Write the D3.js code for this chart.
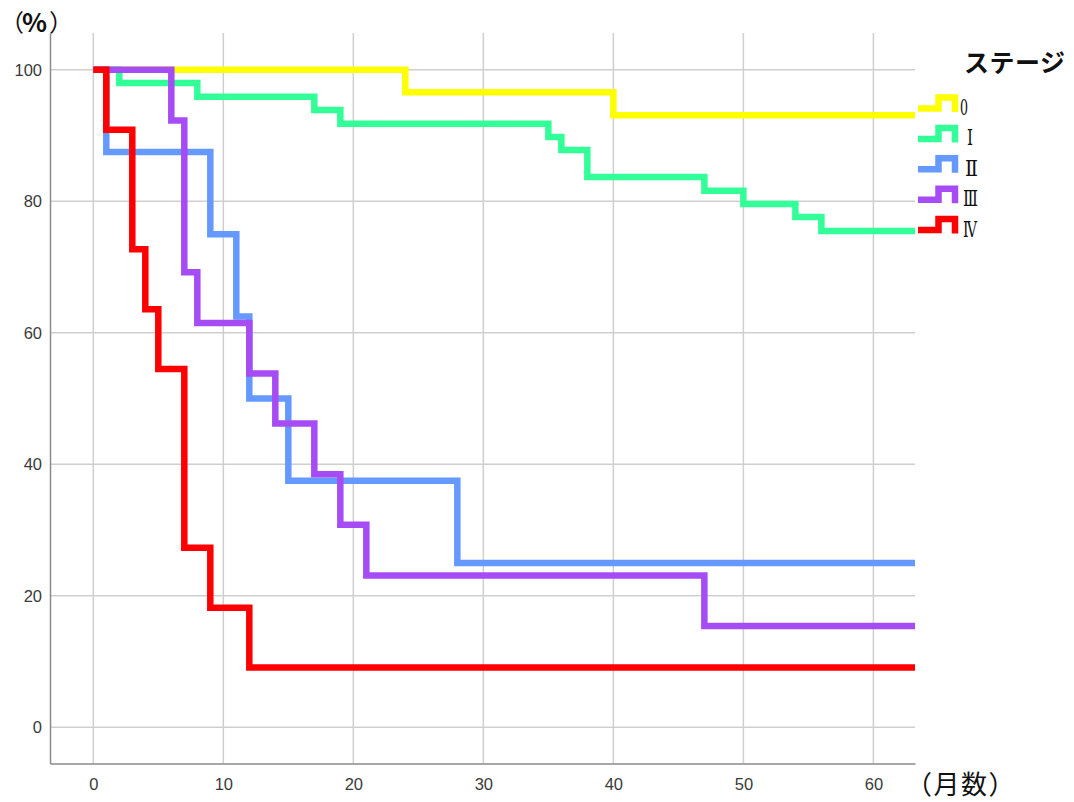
<!DOCTYPE html>
<html>
<head>
<meta charset="utf-8">
<script src="https://cdn.jsdelivr.net/npm/d3@7"></script>
<style>
  body { margin: 0; background: #fff; }
</style>
</head>
<body>
<div id="chart"></div>
<script>
// stage names and colours
const stages = ["0", "Ⅰ", "Ⅱ", "Ⅲ", "Ⅳ"];
const colors = ["#ffff00", "#33ff99", "#6699ff", "#a64cf4", "#ff0000"];

// step times (months) and survival (%) from that time on
const stage0Times = [0, 24, 40];
const stage0Surv  = [100, 96.6, 93.1];
const stage1Times = [0, 2, 8, 17, 19, 35, 36, 38, 47, 50, 54, 56];
const stage1Surv  = [100, 98.0, 95.9, 93.9, 91.8, 89.8, 87.8, 83.7, 81.6, 79.6, 77.6, 75.5];
const stage2Times = [0, 1, 9, 11, 12, 15, 28];
const stage2Surv  = [100, 87.5, 75, 62.5, 50, 37.5, 25];
const stage3Times = [0, 6, 7, 8, 12, 14, 17, 19, 21, 47];
const stage3Surv  = [100, 92.3, 69.2, 61.5, 53.8, 46.2, 38.5, 30.8, 23.1, 15.4];
const stage4Times = [0, 1, 3, 4, 5, 7, 9, 12];
const stage4Surv  = [100, 90.9, 72.7, 63.6, 54.5, 27.3, 18.2, 9.1];
const endTime = 63.2;

const xTicks = [0, 10, 20, 30, 40, 50, 60];
const yTicks = [0, 20, 40, 60, 80, 100];

const series = [
  [stage0Times, stage0Surv],
  [stage1Times, stage1Surv],
  [stage2Times, stage2Surv],
  [stage3Times, stage3Surv],
  [stage4Times, stage4Surv]
].map(([t, s]) => {
  const pts = t.map((d, i) => [d, s[i]]);
  pts.push([endTime, s[s.length - 1]]);
  return pts;
});

const svgWidth = 1074, svgHeight = 802;
const plot = {left: 50, right: 915, top: 33, bottom: 763.5};

const svg = d3.select("#chart").append("svg")
  .attr("width", svgWidth)
  .attr("height", svgHeight);

const x = d3.scaleLinear().domain([-3.33, 63.2]).range([plot.left, plot.right]);
const y = d3.scaleLinear().domain([-5.5, 105.6]).range([plot.bottom, plot.top]);

// grid
const grid = svg.append("g").attr("stroke", "#cfcfcf").attr("stroke-width", 1.5);
grid.selectAll(".vg").data(xTicks).enter().append("line")
  .attr("x1", d => x(d)).attr("x2", d => x(d))
  .attr("y1", plot.top).attr("y2", plot.bottom);
grid.selectAll(".hg").data(yTicks).enter().append("line")
  .attr("x1", plot.left).attr("x2", plot.right)
  .attr("y1", d => y(d)).attr("y2", d => y(d));

// axes
const bottomAxis = d3.axisBottom(x).tickValues(xTicks).tickSize(0).tickPadding(15);
const leftAxis = d3.axisLeft(y).tickValues(yTicks).tickSize(0).tickPadding(8);

const gx = svg.append("g").attr("transform", `translate(0, ${plot.bottom})`).call(bottomAxis);
const gy = svg.append("g").attr("transform", `translate(${plot.left}, 0)`).call(leftAxis);
[gx, gy].forEach(g => {
  g.select(".domain").attr("stroke", "#8a8a8a").attr("stroke-width", 1.5);
  g.selectAll("text")
    .style("font-family", "'Liberation Sans', Arial, sans-serif")
    .style("font-size", "16.5px")
    .attr("fill", "#3a3a3a");
});

// survival curves
const line = d3.line()
  .x(d => x(d[0]))
  .y(d => y(d[1]))
  .curve(d3.curveStepAfter);

svg.append("g").selectAll("path")
  .data(series)
  .enter()
  .append("path")
  .attr("d", line)
  .attr("fill", "none")
  .attr("stroke", (d, i) => colors[i])
  .attr("stroke-width", 6.5)
  .attr("stroke-linejoin", "miter");

// axis titles
const pct = svg.append("text")
  .attr("y", 31)
  .style("font-family", "'Noto Sans CJK JP', sans-serif")
  .style("font-size", "24px")
  .attr("fill", "#111");
pct.append("tspan").attr("x", 0).text("（");
pct.append("tspan").attr("x", 22).attr("y", 32).style("font-size", "26px").style("font-weight", "bold").text("%");
pct.append("tspan").attr("x", 49).attr("y", 31).text("）");

svg.append("text")
  .attr("x", 906).attr("y", 794)
  .style("font-family", "'Noto Sans CJK JP', sans-serif")
  .style("font-size", "26px")
  .style("letter-spacing", "1.5px")
  .attr("fill", "#111")
  .text("（月数）");

// legend
const legend = svg.append("g");
legend.append("text")
  .attr("x", 964).attr("y", 72)
  .style("font-family", "'Noto Sans CJK JP', sans-serif")
  .style("font-size", "25px")
  .style("font-weight", "bold")
  .style("letter-spacing", "0.5px")
  .attr("fill", "#111")
  .text("ステージ");

const item = legend.selectAll(".item")
  .data(stages)
  .enter()
  .append("g")
  .attr("transform", (d, i) => `translate(0, ${104 + i * 30.4})`);

item.append("path")
  .attr("d", "M918,4.5H938.5V-6.5H955V8")
  .attr("fill", "none")
  .attr("stroke", (d, i) => colors[i])
  .attr("stroke-width", 6.5);

item.append("text")
  .attr("x", (d, i) => [960, 967, 965, 963, 963][i])
  .attr("y", 11)
  .style("font-family", "'DejaVu Serif', 'Liberation Serif', serif")
  .style("font-size", "22px")
  .attr("fill", "#111")
  .attr("textLength", (d, i) => [8, 6, 13, 15, 14][i])
  .attr("lengthAdjust", "spacingAndGlyphs")
  .text(d => d);
</script>
</body>
</html>
